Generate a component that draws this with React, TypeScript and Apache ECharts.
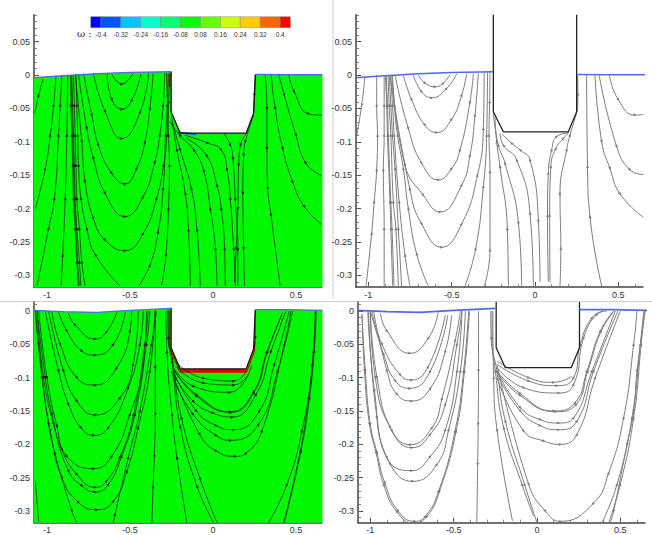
import React, { useEffect, useRef } from "react";
import * as echarts from "echarts";

type P = [number, number];

const xTicks = [-1, -0.5, 0, 0.5];
const yTicksTop = [0.05, 0, -0.05, -0.1, -0.15, -0.2, -0.25, -0.3];
const yTicksBottom = [0, -0.05, -0.1, -0.15, -0.2, -0.25, -0.3];
const levelColors = ["#0000ff", "#0055ff", "#00c4ff", "#00ffcc", "#00ff77", "#00ff00", "#66ff00", "#ccff00", "#ffcc00", "#ff6600", "#ff0000"];
const levelLabels = ["-0.4", "-0.32", "-0.24", "-0.16", "-0.08", "0.08", "0.16", "0.24", "0.32", "0.4"];

const surfaceLeftTop: P[] = [[-1.078, -0.004], [-0.9, -0.001], [-0.7, 0.002], [-0.5, 0.004], [-0.25, 0.005]];
const surfaceRightTop: P[] = [[0.255, 0.001], [0.45, 0.0005], [0.66, 0.0005]];
const surfaceLeftBottom: P[] = [[-1.078, 0.001], [-0.9, -0.001], [-0.7, -0.002], [-0.5, 0.001], [-0.25, 0.004]];
const surfaceRightBottom: P[] = [[0.255, 0.002], [0.45, 0.002], [0.66, 0.001]];

const channelTop: P[] = [[-0.252, 0.005], [-0.252, -0.055], [-0.197, -0.087], [0.2, -0.087], [0.245, -0.057], [0.255, 0.001]];
const channelBottom: P[] = [[-0.252, 0.005], [-0.252, -0.055], [-0.197, -0.087], [0.2, -0.087], [0.245, -0.057], [0.255, 0.002]];
const wallTop: P[] = [[-0.25, 0.0905], [-0.25, -0.055], [-0.19, -0.085], [0.2, -0.085], [0.25, -0.055], [0.25, 0.0905]];
const wallBottom: P[] = [[-0.245, 0.0135], [-0.245, -0.055], [-0.19, -0.085], [0.205, -0.085], [0.255, -0.055], [0.255, 0.0135]];

const hotTop: P[] = [[-0.262, 0.002], [-0.262, -0.018]];
const coldTop: P[] = [[-0.21, -0.086], [-0.1, -0.0885]];
const hotFloor: P[] = [[-0.2, -0.0905], [0.205, -0.0905]];
const hotSideLeft: P[] = [[-0.26, 0.0], [-0.26, -0.055], [-0.2, -0.0905]];
const hotSideRight: P[] = [[0.205, -0.0905], [0.25, -0.06], [0.252, -0.045]];

const tlLines: P[][] = [
  [[-1.074, -0.057], [-1.05, -0.03], [-1.024, -0.006]],
  [[-1.07, -0.2], [-1.01, -0.14], [-0.98, -0.09], [-0.96, -0.045], [-0.945, 0.0]],
  [[-1.06, -0.316], [-0.99, -0.23], [-0.955, -0.185], [-0.93, -0.09], [-0.92, -0.045], [-0.91, 0.0]],
  [[-0.915, -0.316], [-0.905, -0.27], [-0.89, -0.185], [-0.88, -0.09], [-0.875, 0.0]],
  [[-0.81, -0.316], [-0.82, -0.28], [-0.83, -0.23], [-0.84, -0.185], [-0.845, -0.135], [-0.85, -0.09], [-0.855, -0.045], [-0.858, 0.0]],
  [[-0.805, -0.316], [-0.815, -0.28], [-0.825, -0.23], [-0.835, -0.185], [-0.84, -0.135], [-0.845, -0.09], [-0.85, -0.045], [-0.854, 0.0]],
  [[-0.795, -0.316], [-0.805, -0.28], [-0.82, -0.23], [-0.83, -0.185], [-0.835, -0.135], [-0.84, -0.09], [-0.845, -0.045], [-0.85, 0.0]],
  [[-0.77, -0.316], [-0.79, -0.28], [-0.805, -0.23], [-0.82, -0.185], [-0.825, -0.135], [-0.83, -0.09], [-0.835, -0.045], [-0.84, 0.0]],
  [[-0.56, -0.316], [-0.709, -0.269], [-0.76, -0.23], [-0.795, -0.185], [-0.81, -0.135], [-0.815, -0.09], [-0.82, -0.045], [-0.825, 0.002]],
  [[-0.61, 0.002], [-0.55, -0.0135], [-0.48, 0.003]],
  [[-0.638, 0.003], [-0.608, -0.037], [-0.548, -0.051], [-0.488, -0.037], [-0.434, 0.002]],
  [[-0.72, 0.002], [-0.649, -0.055], [-0.548, -0.095], [-0.438, -0.055], [-0.388, 0.003]],
  [[-0.78, 0.002], [-0.73, -0.06], [-0.69, -0.105], [-0.61, -0.147], [-0.53, -0.163], [-0.46, -0.14], [-0.41, -0.1], [-0.38, -0.05], [-0.36, 0.003]],
  [[-0.81, 0.002], [-0.76, -0.08], [-0.72, -0.125], [-0.65, -0.177], [-0.53, -0.212], [-0.42, -0.182], [-0.35, -0.13], [-0.32, -0.09], [-0.3, -0.045], [-0.29, 0.003]],
  [[-0.83, 0.002], [-0.79, -0.1], [-0.77, -0.16], [-0.72, -0.215], [-0.65, -0.247], [-0.53, -0.263], [-0.42, -0.237], [-0.34, -0.185], [-0.297, -0.135], [-0.277, -0.09], [-0.267, -0.04], [-0.26, 0.003]],
  [[-0.448, -0.316], [-0.38, -0.285], [-0.33, -0.235], [-0.3, -0.17], [-0.285, -0.09], [-0.275, -0.045], [-0.27, 0.003]],
  [[-0.31, -0.316], [-0.283, -0.269], [-0.268, -0.2], [-0.262, -0.135], [-0.268, -0.09], [-0.275, -0.03], [-0.28, 0.003]],
  [[-0.136, -0.316], [-0.147, -0.232], [-0.167, -0.177], [-0.217, -0.112], [-0.25, -0.062]],
  [[-0.076, -0.316], [-0.096, -0.232], [-0.13, -0.17], [-0.2, -0.11], [-0.245, -0.07]],
  [[0.024, -0.316], [0.015, -0.26], [-0.016, -0.2], [-0.056, -0.143], [-0.116, -0.112], [-0.2, -0.09], [-0.26, -0.07]],
  [[0.074, -0.316], [0.07, -0.26], [0.05, -0.2], [0.024, -0.165], [-0.04, -0.12], [-0.16, -0.095]],
  [[-0.17, -0.09], [-0.03, -0.102], [0.05, -0.112], [0.085, -0.142], [0.105, -0.187], [0.125, -0.262], [0.135, -0.316]],
  [[0.065, -0.087], [0.105, -0.105], [0.12, -0.125], [0.135, -0.187], [0.15, -0.262], [0.15, -0.316]],
  [[0.2, -0.088], [0.165, -0.105], [0.155, -0.135], [0.15, -0.2], [0.14, -0.26], [0.13, -0.31]],
  [[0.245, -0.06], [0.195, -0.1], [0.185, -0.12], [0.18, -0.177], [0.185, -0.26], [0.19, -0.316]],
  [[0.258, 0.001], [0.25, -0.03], [0.245, -0.058]],
  [[0.315, 0.0], [0.325, -0.05], [0.325, -0.11], [0.33, -0.17], [0.35, -0.21], [0.405, -0.316]],
  [[0.35, 0.002], [0.375, -0.05], [0.42, -0.11], [0.48, -0.16], [0.55, -0.197], [0.657, -0.224]],
  [[0.395, 0.002], [0.43, -0.03], [0.5, -0.09], [0.56, -0.132], [0.657, -0.151]],
  [[0.455, 0.002], [0.49, -0.025], [0.575, -0.058], [0.657, -0.06]],
];

const trLines: P[][] = [
  [[-1.02, -0.002], [-1.04, -0.045], [-1.07, -0.092]],
  [[-1.014, -0.316], [-0.98, -0.237], [-0.965, -0.19], [-0.95, -0.142], [-0.945, -0.09], [-0.95, -0.045], [-0.95, 0.0]],
  [[-0.905, -0.316], [-0.905, -0.23], [-0.91, -0.142], [-0.905, -0.09], [-0.905, -0.045], [-0.905, 0.0]],
  [[-0.854, -0.316], [-0.865, -0.23], [-0.87, -0.19], [-0.885, -0.09], [-0.89, -0.045], [-0.898, 0.0]],
  [[-0.846, -0.316], [-0.858, -0.23], [-0.865, -0.19], [-0.88, -0.09], [-0.885, -0.045], [-0.893, 0.0]],
  [[-0.82, -0.316], [-0.835, -0.23], [-0.85, -0.19], [-0.865, -0.09], [-0.875, -0.045], [-0.882, 0.0]],
  [[-0.8, -0.316], [-0.82, -0.23], [-0.84, -0.14], [-0.855, -0.09], [-0.865, -0.045], [-0.875, 0.0]],
  [[-0.75, -0.316], [-0.78, -0.27], [-0.815, -0.19], [-0.845, -0.09], [-0.855, -0.045], [-0.868, 0.0]],
  [[-0.64, -0.316], [-0.71, -0.268], [-0.76, -0.2], [-0.79, -0.14], [-0.825, -0.09], [-0.845, -0.045], [-0.86, 0.0]],
  [[-0.7, 0.0], [-0.66, -0.012], [-0.6, -0.0175], [-0.55, -0.012], [-0.51, 0.001]],
  [[-0.73, 0.0], [-0.68, -0.025], [-0.62, -0.034], [-0.53, -0.02], [-0.47, 0.002]],
  [[-0.79, 0.0], [-0.74, -0.037], [-0.66, -0.075], [-0.59, -0.086], [-0.5, -0.066], [-0.44, -0.03], [-0.41, 0.002]],
  [[-0.84, 0.0], [-0.76, -0.08], [-0.68, -0.132], [-0.58, -0.157], [-0.5, -0.14], [-0.45, -0.112], [-0.39, -0.04], [-0.37, 0.002]],
  [[-0.855, 0.0], [-0.78, -0.135], [-0.67, -0.18], [-0.57, -0.205], [-0.44, -0.165], [-0.39, -0.12], [-0.36, -0.06], [-0.34, 0.003]],
  [[-0.87, 0.0], [-0.75, -0.172], [-0.68, -0.223], [-0.56, -0.258], [-0.44, -0.223], [-0.345, -0.15], [-0.31, -0.08], [-0.305, 0.004]],
  [[-0.42, -0.316], [-0.356, -0.26], [-0.31, -0.167], [-0.29, -0.09], [-0.285, 0.004]],
  [[-0.304, -0.316], [-0.27, -0.262], [-0.27, -0.145], [-0.276, -0.09], [-0.272, -0.04], [-0.27, 0.005]],
  [[-0.16, -0.316], [-0.166, -0.23], [-0.21, -0.137], [-0.23, -0.1], [-0.24, -0.062]],
  [[-0.08, -0.316], [-0.1, -0.22], [-0.18, -0.132], [-0.22, -0.105], [-0.25, -0.057]],
  [[-0.01, -0.316], [-0.03, -0.207], [-0.11, -0.127], [-0.19, -0.105], [-0.21, -0.087]],
  [[0.03, -0.31], [0.02, -0.217], [-0.03, -0.127], [-0.09, -0.112], [-0.14, -0.102], [-0.2, -0.088]],
  [[0.08, -0.31], [0.075, -0.21], [0.08, -0.147], [0.1, -0.112], [0.13, -0.092], [0.2, -0.087]],
  [[0.09, -0.31], [0.088, -0.21], [0.095, -0.137], [0.125, -0.11], [0.17, -0.095], [0.2, -0.087]],
  [[0.15, -0.316], [0.155, -0.26], [0.15, -0.177], [0.19, -0.112], [0.21, -0.09], [0.25, -0.057]],
  [[0.256, 0.0], [0.257, -0.03], [0.255, -0.055]],
  [[0.4, -0.316], [0.33, -0.212], [0.315, -0.137], [0.31, 0.0]],
  [[0.36, 0.0], [0.4, -0.1], [0.45, -0.14], [0.51, -0.178], [0.65, -0.213]],
  [[0.385, 0.0], [0.49, -0.107], [0.57, -0.142], [0.65, -0.149]],
  [[0.446, 0.0], [0.5, -0.037], [0.6, -0.06], [0.65, -0.059]],
];

const blLines: P[][] = [
  [[-0.87, -0.003], [-0.83, -0.021], [-0.709, -0.042], [-0.64, -0.031], [-0.578, -0.001]],
  [[-0.93, -0.002], [-0.88, -0.03], [-0.79, -0.06], [-0.709, -0.066], [-0.6, -0.05], [-0.528, -0.001]],
  [[-0.97, -0.002], [-0.92, -0.05], [-0.82, -0.1], [-0.709, -0.111], [-0.58, -0.085], [-0.5, -0.03], [-0.49, 0.0]],
  [[-0.99, 0.0], [-0.9, -0.09], [-0.82, -0.135], [-0.709, -0.156], [-0.56, -0.13], [-0.48, -0.08], [-0.45, 0.0]],
  [[-1.01, 0.0], [-0.93, -0.09], [-0.87, -0.14], [-0.795, -0.175], [-0.72, -0.1865], [-0.63, -0.175], [-0.51, -0.115], [-0.44, -0.05], [-0.42, 0.0]],
  [[-1.05, 0.0], [-1.0, -0.1], [-0.94, -0.173], [-0.88, -0.218], [-0.72, -0.2365], [-0.61, -0.218], [-0.5, -0.155], [-0.42, -0.08], [-0.4, 0.0]],
  [[-1.06, 0.0], [-1.01, -0.1], [-0.97, -0.155], [-0.91, -0.208], [-0.82, -0.245], [-0.709, -0.2645], [-0.64, -0.255], [-0.558, -0.218], [-0.478, -0.155], [-0.41, -0.05], [-0.39, 0.0]],
  [[-1.06, 0.0], [-1.02, -0.1], [-0.96, -0.17], [-0.87, -0.24], [-0.79, -0.262], [-0.709, -0.2715], [-0.63, -0.26], [-0.55, -0.218], [-0.47, -0.155], [-0.4, -0.05], [-0.38, 0.0]],
  [[-1.07, 0.0], [-1.03, -0.1], [-0.98, -0.18], [-0.91, -0.25], [-0.81, -0.287], [-0.7, -0.298], [-0.598, -0.285], [-0.518, -0.24], [-0.45, -0.175], [-0.38, -0.09], [-0.35, 0.0]],
  [[-1.07, 0.0], [-1.05, -0.05], [-0.99, -0.17], [-0.95, -0.215], [-0.85, -0.3], [-0.82, -0.3175]],
  [[-1.07, -0.255], [-1.05, -0.316]],
  [[-0.6, -0.3175], [-0.59, -0.305], [-0.51, -0.22], [-0.44, -0.15], [-0.37, -0.05], [-0.34, 0.0]],
  [[-0.347, 0.002], [-0.347, -0.085], [-0.347, -0.155], [-0.353, -0.218], [-0.361, -0.265], [-0.367, -0.3175]],
  [[-0.157, -0.3175], [-0.217, -0.22], [-0.247, -0.155], [-0.277, -0.061], [-0.283, -0.001]],
  [[0.004, -0.3175], [-0.096, -0.263], [-0.197, -0.173], [-0.247, -0.076], [-0.27, -0.04], [-0.272, 0.002]],
  [[0.025, -0.3175], [-0.08, -0.25], [-0.19, -0.16], [-0.245, -0.07], [-0.266, -0.04], [-0.266, 0.002]],
  [[-0.227, -0.076], [-0.056, -0.101], [0.125, -0.105], [0.2, -0.09]],
  [[-0.227, -0.083], [-0.056, -0.108], [0.125, -0.111], [0.215, -0.095]],
  [[-0.227, -0.088], [-0.116, -0.113], [0.1, -0.122], [0.235, -0.081]],
  [[-0.237, -0.088], [-0.096, -0.126], [0.104, -0.151], [0.245, -0.121], [0.325, -0.061], [0.415, -0.006]],
  [[-0.24, -0.086], [-0.098, -0.128], [0.108, -0.152], [0.248, -0.122], [0.33, -0.06], [0.42, -0.002]],
  [[-0.237, -0.096], [-0.116, -0.136], [0.0, -0.153], [0.115, -0.159], [0.26, -0.125], [0.35, -0.06], [0.44, 0.0]],
  [[-0.24, -0.09], [-0.1, -0.15], [0.02, -0.172], [0.125, -0.178], [0.28, -0.15], [0.37, -0.08], [0.46, 0.0]],
  [[-0.24, -0.1], [-0.12, -0.155], [0.02, -0.187], [0.105, -0.194], [0.275, -0.17], [0.39, -0.09], [0.48, 0.0]],
  [[-0.25, -0.09], [-0.08, -0.185], [0.02, -0.21], [0.134, -0.218], [0.2, -0.213], [0.295, -0.18], [0.43, -0.05], [0.47, 0.0]],
  [[0.335, -0.3175], [0.446, -0.26], [0.536, -0.18], [0.6, -0.08], [0.617, -0.001]],
  [[0.426, -0.3175], [0.526, -0.21], [0.576, -0.13], [0.605, -0.06], [0.617, 0.0]],
  [[0.43, -0.3175], [0.53, -0.21], [0.582, -0.13], [0.61, -0.06], [0.622, 0.0]],
  [[0.254, 0.0], [0.255, -0.04], [0.245, -0.06]],
];

const brLines: P[][] = [
  [[-0.94, -0.003], [-0.9, -0.03], [-0.763, -0.0635], [-0.65, -0.04], [-0.592, -0.001]],
  [[-0.99, -0.001], [-0.93, -0.05], [-0.82, -0.096], [-0.753, -0.1035], [-0.653, -0.0835], [-0.55, -0.006]],
  [[-1.0, 0.0], [-0.92, -0.065], [-0.85, -0.105], [-0.763, -0.116], [-0.64, -0.09], [-0.535, -0.006]],
  [[-0.98, -0.001], [-0.9, -0.09], [-0.84, -0.125], [-0.753, -0.135], [-0.64, -0.116], [-0.55, -0.06], [-0.512, -0.006]],
  [[-1.0, -0.001], [-0.97, -0.1], [-0.88, -0.175], [-0.76, -0.2005], [-0.63, -0.175], [-0.57, -0.131], [-0.49, -0.0435], [-0.46, 0.0]],
  [[-1.0, -0.001], [-0.96, -0.1], [-0.87, -0.18], [-0.75, -0.205], [-0.64, -0.185], [-0.55, -0.14], [-0.48, -0.05], [-0.45, 0.0]],
  [[-1.015, -0.001], [-0.975, -0.12], [-0.9, -0.22], [-0.752, -0.2395], [-0.64, -0.218], [-0.55, -0.178], [-0.48, -0.09], [-0.45, 0.0]],
  [[-1.01, -0.001], [-0.96, -0.16], [-0.88, -0.23], [-0.745, -0.2555], [-0.6, -0.23], [-0.53, -0.178], [-0.46, -0.09], [-0.43, 0.0]],
  [[-1.05, -0.005], [-1.03, -0.09], [-1.0, -0.17], [-0.96, -0.213], [-0.913, -0.258], [-0.833, -0.3], [-0.733, -0.3155], [-0.67, -0.308], [-0.59, -0.27], [-0.492, -0.18], [-0.44, -0.09], [-0.41, 0.0]],
  [[-1.05, -0.005], [-1.035, -0.09], [-1.005, -0.17], [-0.965, -0.213], [-0.918, -0.262], [-0.838, -0.302], [-0.74, -0.318], [-0.66, -0.308], [-0.585, -0.27], [-0.485, -0.18], [-0.435, -0.09], [-0.405, 0.0]],
  [[-0.351, 0.0], [-0.351, -0.09], [-0.353, -0.17], [-0.356, -0.23], [-0.361, -0.3175]],
  [[-0.147, -0.315], [-0.24, -0.178], [-0.26, -0.1], [-0.265, 0.0]],
  [[-0.02, -0.308], [-0.09, -0.26], [-0.2, -0.175], [-0.25, -0.09], [-0.27, -0.04], [-0.27, 0.0]],
  [[0.0, -0.3175], [-0.075, -0.26], [-0.19, -0.165], [-0.24, -0.09], [-0.275, -0.04], [-0.278, 0.0]],
  [[-0.24, -0.08], [-0.05, -0.26], [0.05, -0.3], [0.14, -0.3155], [0.34, -0.288], [0.43, -0.243], [0.52, -0.16], [0.58, -0.05], [0.6, 0.0]],
  [[0.39, -0.3175], [0.48, -0.26], [0.57, -0.16], [0.62, -0.05], [0.64, 0.0]],
  [[0.43, -0.3175], [0.5, -0.26], [0.58, -0.16], [0.625, -0.05], [0.645, 0.0]],
  [[-0.24, -0.075], [-0.05, -0.1], [0.1, -0.107], [0.21, -0.098]],
  [[-0.24, -0.08], [-0.05, -0.105], [0.12, -0.112], [0.22, -0.1], [0.26, -0.05], [0.33, -0.01], [0.4, 0.0]],
  [[-0.24, -0.085], [-0.08, -0.115], [0.13, -0.123], [0.22, -0.11], [0.28, -0.04], [0.36, -0.005], [0.42, 0.0]],
  [[-0.24, -0.09], [-0.1, -0.124], [0.1, -0.15], [0.23, -0.137], [0.3, -0.09], [0.38, -0.03], [0.46, 0.0]],
  [[-0.24, -0.092], [-0.1, -0.127], [0.11, -0.151], [0.235, -0.14], [0.305, -0.09], [0.385, -0.03], [0.465, 0.0]],
  [[-0.24, -0.09], [-0.1, -0.145], [0.02, -0.163], [0.13, -0.168], [0.22, -0.16], [0.33, -0.09], [0.47, 0.0]],
  [[-0.24, -0.095], [-0.1, -0.15], [0.02, -0.172], [0.13, -0.178], [0.24, -0.165], [0.34, -0.09], [0.485, 0.0]],
  [[-0.24, -0.1], [-0.08, -0.18], [0.04, -0.195], [0.14, -0.2], [0.24, -0.185], [0.35, -0.1], [0.5, 0.0]],
  [[0.65, 0.0], [0.6, -0.09], [0.58, -0.15], [0.54, -0.2], [0.46, -0.3], [0.44, -0.3175]],
];

const LEFT_X: [number, number] = [-1.078, 0.657];
const RIGHT_X: [number, number] = [-1.074, 0.648];
const TOP_Y: [number, number] = [-0.3175, 0.0905];
const BOTTOM_Y: [number, number] = [-0.3175, 0.0135];

const rangeTicks = (a: number, b: number, step: number) => {
  const out: number[] = [];
  for (let v = Math.ceil(a / step - 1e-6); v * step <= b + 1e-9; v++) out.push(+(v * step).toFixed(3));
  return out;
};

const grids = [
  { left: 34, top: 14.7, width: 288, height: 272.3, xr: LEFT_X, yr: TOP_Y, yt: yTicksTop },
  { left: 356, top: 14.7, width: 287, height: 272.3, xr: RIGHT_X, yr: TOP_Y, yt: yTicksTop },
  { left: 34, top: 302, width: 288, height: 220.7, xr: LEFT_X, yr: BOTTOM_Y, yt: yTicksBottom },
  { left: 358, top: 302, width: 287, height: 220.7, xr: RIGHT_X, yr: BOTTOM_Y, yt: yTicksBottom },
];

const AXIS = "#444";
const labelStyle = { fontFamily: "Liberation Sans", fontSize: 9, color: "#333" };

function lineSeries(panel: number, pts: P[], color: string, width: number, z = 5) {
  const g = grids[panel];
  const sx = g.width / (g.xr[1] - g.xr[0]);
  const sy = g.height / (g.yr[1] - g.yr[0]);
  return {
    type: "line",
    xAxisIndex: panel * 2,
    yAxisIndex: panel * 2,
    smooth: 0.5,
    z,
    silent: true,
    showSymbol: true,
    showAllSymbol: true,
    itemStyle: { color },
    lineStyle: { color, width },
    data: pts.map((p, i) => {
      const a = pts[Math.max(i - 1, 0)];
      const b = pts[Math.min(i + 1, pts.length - 1)];
      const ang = (Math.atan2((b[1] - a[1]) * sy, (b[0] - a[0]) * sx) * 180) / Math.PI - 90;
      const end = i === 0 || i === pts.length - 1;
      return { value: p, symbol: end ? "none" : "triangle", symbolSize: 3, symbolRotate: ang };
    }),
  };
}

function rawLine(panel: number, pts: P[], color: string, width: number, z: number) {
  return {
    type: "line",
    xAxisIndex: panel * 2,
    yAxisIndex: panel * 2,
    z,
    silent: true,
    showSymbol: false,
    lineStyle: { color, width },
    data: pts,
  };
}

function domainSeries(panel: number, pts: P[]) {
  return {
    type: "custom",
    xAxisIndex: panel * 2,
    yAxisIndex: panel * 2,
    z: 1,
    silent: true,
    data: pts,
    encode: { x: 0, y: 1 },
    renderItem: (params: any, api: any) =>
      params.dataIndex === 0
        ? { type: "polygon", shape: { points: pts.map((p) => api.coord(p)) }, style: { fill: "#00f800" } }
        : null,
  };
}

function buildOption() {
  const xAxis: any[] = [];
  const yAxis: any[] = [];
  grids.forEach((g, i) => {
    const base = { gridIndex: i, splitLine: { show: false } };
    xAxis.push({
      ...base, type: "value", min: g.xr[0], max: g.xr[1], position: "bottom",
      axisLine: { show: true, onZero: false, lineStyle: { color: AXIS, width: 1.5 } },
      axisTick: { show: true, inside: true, length: 5, customValues: xTicks, lineStyle: { color: AXIS, width: 1 } },
      axisLabel: { ...labelStyle, margin: 3, customValues: xTicks, formatter: (v: number) => String(v) },
    });
    xAxis.push({
      ...base, type: "value", min: g.xr[0], max: g.xr[1], position: "bottom",
      axisLine: { show: false, onZero: false },
      axisTick: { show: true, inside: true, length: 3, customValues: rangeTicks(g.xr[0], g.xr[1], 0.1), lineStyle: { color: "#666", width: 0.8 } },
      axisLabel: { show: false },
    });
    yAxis.push({
      ...base, type: "value", min: g.yr[0], max: g.yr[1], position: "left",
      axisLine: { show: true, onZero: false, lineStyle: { color: AXIS, width: 1.5 } },
      axisTick: { show: true, inside: true, length: 5, customValues: g.yt, lineStyle: { color: AXIS, width: 1 } },
      axisLabel: { ...labelStyle, margin: 4, customValues: g.yt, formatter: (v: number) => String(v) },
    });
    yAxis.push({
      ...base, type: "value", min: g.yr[0], max: g.yr[1], position: "left",
      axisLine: { show: false, onZero: false },
      axisTick: { show: true, inside: true, length: 3, customValues: rangeTicks(g.yr[0], g.yr[1], 0.01), lineStyle: { color: "#666", width: 0.8 } },
      axisLabel: { show: false },
    });
  });

  const domainTop: P[] = [...surfaceLeftTop, ...channelTop.slice(1), ...surfaceRightTop, [0.66, -0.3175], [-1.078, -0.3175]];
  const domainBottom: P[] = [...surfaceLeftBottom, ...channelBottom.slice(1), ...surfaceRightBottom, [0.66, -0.3175], [-1.078, -0.3175]];

  const BLUE = "#5468ea";
  const DARK = "#1c1c1c";
  const GREY = "#7c7c7c";
  const series: any[] = [
    domainSeries(0, domainTop),
    domainSeries(2, domainBottom),
    rawLine(0, hotTop, "#e01010", 2, 3),
    rawLine(0, coldTop, "#1060e0", 2, 3),
    rawLine(2, hotFloor, "#e00000", 2.8, 3),
    rawLine(2, hotSideLeft, "#e00000", 1.2, 3),
    rawLine(2, hotSideRight, "#e00000", 1.2, 3),
    ...tlLines.map((l) => lineSeries(0, l, DARK, 0.7)),
    ...trLines.map((l) => lineSeries(1, l, GREY, 1)),
    ...blLines.map((l) => lineSeries(2, l, DARK, 0.7)),
    ...brLines.map((l) => lineSeries(3, l, GREY, 1)),
    rawLine(0, channelTop, "#111", 1.3, 7),
    rawLine(2, channelBottom, "#111", 1.3, 7),
    rawLine(1, wallTop, "#222", 1.3, 7),
    rawLine(3, wallBottom, "#222", 1.3, 7),
    rawLine(0, surfaceLeftTop, BLUE, 1.3, 8),
    rawLine(0, surfaceRightTop, BLUE, 1.3, 8),
    rawLine(1, surfaceLeftTop, BLUE, 1.6, 8),
    rawLine(1, surfaceRightTop, BLUE, 1.6, 8),
    rawLine(2, surfaceLeftBottom, BLUE, 1.3, 8),
    rawLine(2, surfaceRightBottom, BLUE, 1.3, 8),
    rawLine(3, surfaceLeftBottom, BLUE, 1.6, 8),
    rawLine(3, surfaceRightBottom, BLUE, 1.6, 8),
  ];

  const barX = 90.7;
  const barY = 16.7;
  const barH = 11;
  const cell = 19.92;
  const edge = 10.2;
  const graphic: any[] = [];
  levelColors.forEach((c, i) => {
    const first = i === 0;
    const last = i === levelColors.length - 1;
    const x = first ? barX : barX + edge + (i - 1) * cell;
    const w = first || last ? edge : cell;
    graphic.push({ type: "rect", shape: { x, y: barY, width: w, height: barH }, style: { fill: c, stroke: "#777", lineWidth: 0.4 }, z: 20 });
  });
  levelLabels.forEach((t, i) => {
    graphic.push({
      type: "text", x: barX + edge + i * cell, y: 34.3, z: 20,
      style: { text: t, fontFamily: "Liberation Sans", fontSize: 6.5, fill: "#333", align: "center", verticalAlign: "middle" },
    });
  });
  graphic.push({ type: "text", x: 77, y: 33.5, z: 20, style: { text: "ω :", fontFamily: "DejaVu Serif", fontSize: 10, fill: "#222", align: "left", verticalAlign: "middle" } });
  graphic.push({ type: "line", shape: { x1: 333, y1: 0, x2: 333, y2: 298 }, style: { stroke: "#cfcfcf", lineWidth: 1 }, z: 0 });
  graphic.push({ type: "line", shape: { x1: 0, y1: 301.5, x2: 652, y2: 301.5 }, style: { stroke: "#cfcfcf", lineWidth: 1 }, z: 0 });

  return {
    animation: false,
    backgroundColor: "#fff",
    grid: grids.map((g) => ({ left: g.left, top: g.top, width: g.width, height: g.height, show: false, containLabel: false })),
    xAxis,
    yAxis,
    series,
    graphic,
  };
}

export default function App() {
  const ref = useRef<HTMLDivElement>(null);
  useEffect(() => {
    const chart = echarts.init(ref.current!, undefined, { renderer: "svg" });
    chart.setOption(buildOption() as any);
    return () => chart.dispose();
  }, []);
  return <div ref={ref} style={{ position: "fixed", left: 0, top: 0, width: 652, height: 535 }} />;
}
